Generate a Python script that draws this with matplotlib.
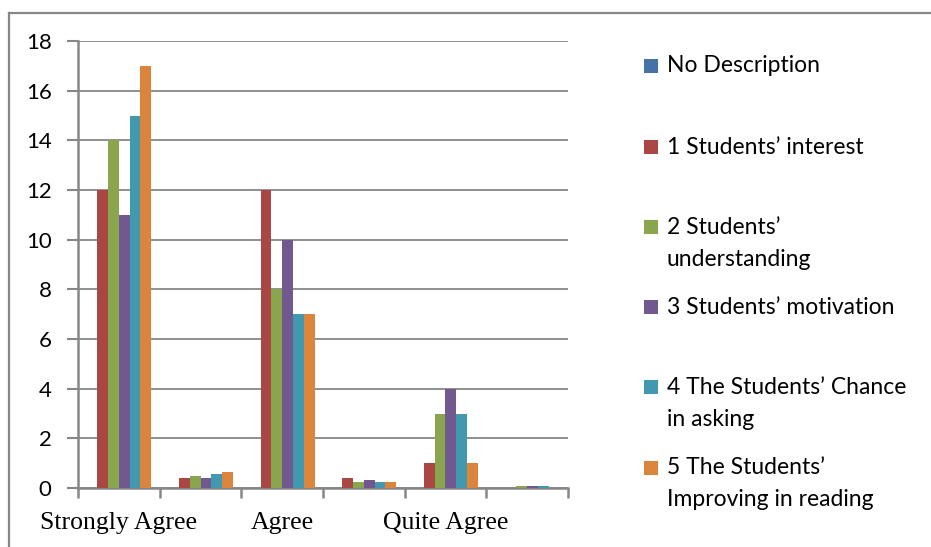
import matplotlib
matplotlib.use("Agg")
import matplotlib.pyplot as plt
from matplotlib.patches import Rectangle
from matplotlib.lines import Line2D
import numpy as np

# ── data ────────────────────────────────────────────────────────────────────
categories = ["Strongly Agree", "", "Agree", "", "Quite Agree", ""]
series_names = [
    "No Description",
    "1 Students\u2019 interest",
    "2 Students\u2019\nunderstanding",
    "3 Students\u2019 motivation",
    "4 The Students\u2019 Chance\nin asking",
    "5 The Students\u2019\nImproving in reading",
]
no_description = [0, 0, 0, 0, 0, 0]
students_interest = [12, 0.42, 12, 0.41, 1, 0.02]
students_understanding = [14, 0.50, 8, 0.25, 3, 0.10]
students_motivation = [11, 0.42, 10, 0.33, 4, 0.10]
students_chance = [15, 0.58, 7, 0.25, 3, 0.10]
students_improving = [17, 0.66, 7, 0.25, 1, 0.02]
series = [no_description, students_interest, students_understanding,
          students_motivation, students_chance, students_improving]
yticks = [0, 2, 4, 6, 8, 10, 12, 14, 16, 18]

# ── style ───────────────────────────────────────────────────────────────────
COLORS = ["#4572A7", "#AA4643", "#89A54E", "#71588F", "#4198AF", "#DB843D"]
GRID = "#878787"
W_PX, H_PX = 931, 547
SANS = ["Lato", "DejaVu Sans"]

fig = plt.figure(figsize=(W_PX / 100, H_PX / 100), dpi=100)
fig.patch.set_facecolor("white")


def fx(px):
    return px / W_PX


def fy(py):
    return 1 - py / H_PX


ax = fig.add_axes([fx(78), fy(488), fx(568) - fx(78), fy(41) - fy(488)])

# ── bars ────────────────────────────────────────────────────────────────────
n_ser = len(series)
bw = 0.1325
off = (1 - n_ser * bw) / 2
x = np.arange(len(categories))
for j, vals in enumerate(series):
    ax.bar(x + off + j * bw, vals, width=bw, align="edge",
           color=COLORS[j], linewidth=0, zorder=3)

# ── axes ────────────────────────────────────────────────────────────────────
ax.set_xlim(0, len(categories))
ax.set_ylim(0, 18)
ax.set_yticks(yticks)
ax.set_yticklabels([str(v) for v in yticks], family=SANS, fontsize=16,
                   color="black")
ax.yaxis.grid(True, color=GRID, lw=1.3, zorder=1)
ax.set_axisbelow(True)

ax.set_xticks(np.arange(len(categories) + 1))
ax.set_xticklabels([])
lab_pos = [i + 0.5 for i, c in enumerate(categories) if c]
ax.set_xticks(lab_pos, minor=True)
ax.set_xticklabels([c for c in categories if c], minor=True,
                   family=["Liberation Serif", "DejaVu Serif"], fontsize=18.5)
ax.tick_params(axis="x", which="major", length=7, width=1.8, color=GRID,
               direction="out")
ax.tick_params(axis="x", which="minor", length=0, pad=17)
ax.tick_params(axis="y", length=8, width=1.5, color=GRID, pad=11)

for s in ["top", "right"]:
    ax.spines[s].set_visible(False)
for s in ["left", "bottom"]:
    ax.spines[s].set_color(GRID)
    ax.spines[s].set_linewidth(1.8)

# ── legend (drawn by hand, Excel style) ─────────────────────────────────────
line_tops = [66, 147, 227, 307, 387, 468]
for j, name in enumerate(series_names):
    yc = line_tops[j]
    fig.patches.append(Rectangle((fx(644), fy(yc + 7)), fx(14), fy(0) - fy(14),
                                 transform=fig.transFigure,
                                 facecolor=COLORS[j], edgecolor="none"))
    for k, line in enumerate(name.split("\n")):
        fig.text(fx(667), fy(yc + k * 32), line, family=SANS, fontsize=16.5,
                 ha="left", va="center", color="black")

# ── outer chart frame (cut at right / bottom) ───────────────────────────────
fig.add_artist(Line2D([fx(8.5), fx(8.5)], [0, fy(13)], color=GRID, lw=1.6,
                      transform=fig.transFigure))
fig.add_artist(Line2D([fx(8.5), 1], [fy(13), fy(13)], color=GRID, lw=1.6,
                      transform=fig.transFigure))

fig.savefig("out.png", dpi=100, facecolor="white")
